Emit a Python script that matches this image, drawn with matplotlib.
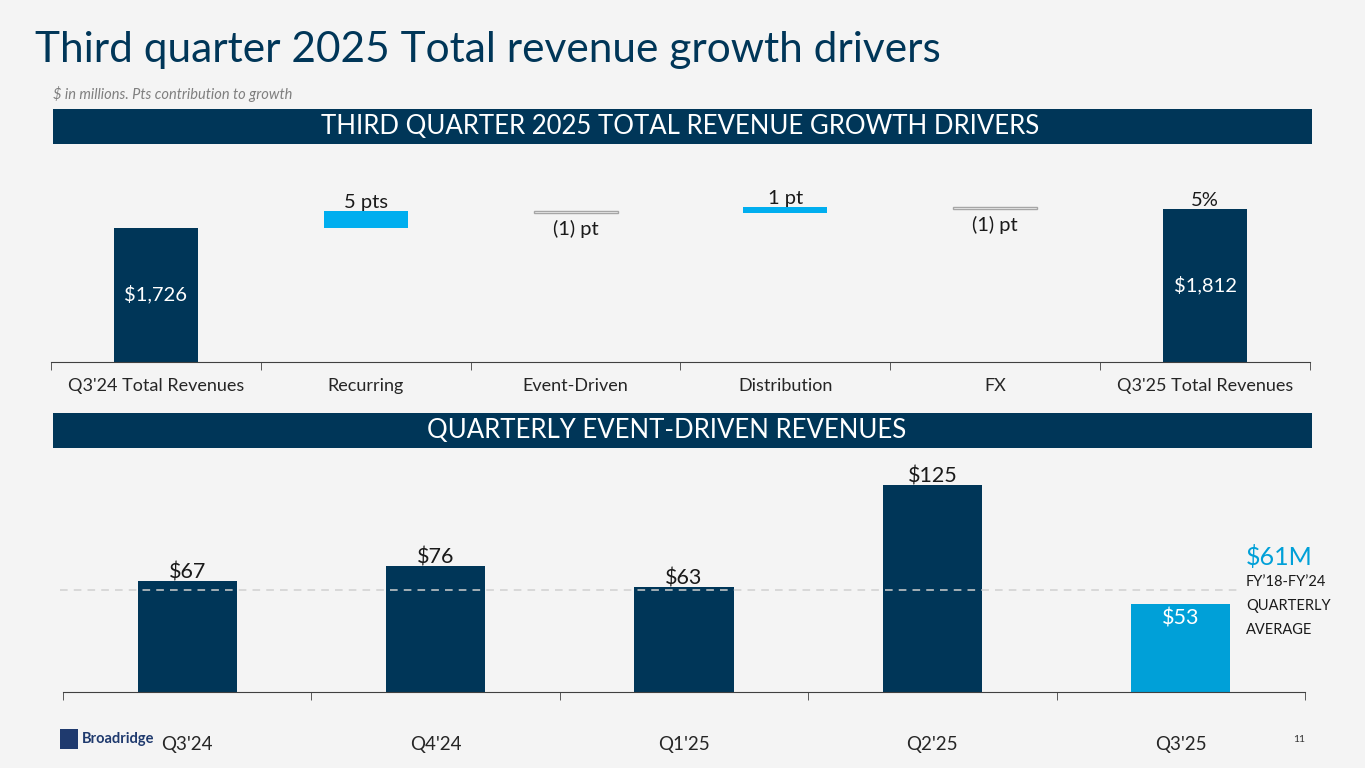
import matplotlib.pyplot as plt
from matplotlib.patches import Rectangle

# waterfall data ($M)
wf_labels = ["Q3'24 Total Revenues", "Recurring", "Event-Driven", "Distribution", "FX", "Q3'25 Total Revenues"]
wf_start = 1726
wf_steps = [78, -12, 30, -10]          # Recurring, Event-Driven, Distribution, FX
wf_end = 1812
wf_step_text = ["5 pts", "(1) pt", "1 pt", "(1) pt"]
wf_growth_text = "5%"

# quarterly event-driven revenues ($M)
q_labels = ["Q3'24", "Q4'24", "Q1'25", "Q2'25", "Q3'25"]
q_values = [67, 76, 63, 125, 53]
q_avg = 61

NAVY = '#003658'
BLUE = '#00aeef'
LBLUE = '#00a0d8'
BG = '#f4f4f4'
FONT = 'Lato'

W, H = 1365, 768
fig = plt.figure(figsize=(W / 100, H / 100), dpi=100, facecolor=BG)


def px_axes(x0, y0, x1, y1):
    # pixel box (top-left origin) -> figure axes
    return fig.add_axes([x0 / W, 1 - y1 / H, (x1 - x0) / W, (y1 - y0) / H])


def ftext(x, y, s, **kw):
    kw.setdefault('family', FONT)
    fig.text(x / W, 1 - y / H, s, **kw)


# title and subtitle
ftext(35, 50, "Third quarter 2025 Total revenue growth drivers", fontsize=30.5, color=NAVY, va='center')
ftext(53, 94, "$ in millions. Pts contribution to growth", fontsize=10.5, style='italic', color='#7f7f7f', va='center')

# banners
for y0, xc, txt in [(109, 680, "THIRD QUARTER 2025 TOTAL REVENUE GROWTH DRIVERS"),
                    (413, 667, "QUARTERLY EVENT-DRIVEN REVENUES")]:
    fig.patches.append(Rectangle((53 / W, 1 - (y0 + 35) / H), (1312 - 53) / W, 35 / H,
                                 transform=fig.transFigure, facecolor=NAVY, edgecolor='none'))
    ftext(xc, y0 + 18, txt, fontsize=18.5, color='white', ha='center', va='center')

# ---- waterfall ----
ax = px_axes(51, 170, 1310, 361.5)
ax.set_facecolor('none')
ax.set_xlim(-0.5, 5.5)
ymin = 1100
ax.set_ylim(ymin, ymin + (361.5 - 170) * 626 / 134)
bw = 0.4
ax.bar(0, wf_start - ymin, bottom=ymin, width=bw, color=NAVY)
ax.bar(5, wf_end - ymin, bottom=ymin, width=bw, color=NAVY)
ax.text(0, (wf_start + ymin) / 2, f"${wf_start:,}", color='white', ha='center', va='center', fontsize=14.5, family=FONT)
ax.text(5, (wf_end + ymin) / 2, f"${wf_end:,}", color='white', ha='center', va='center', fontsize=14.5, family=FONT)
ax.annotate(wf_growth_text, (5, wf_end), xytext=(0, 0), textcoords='offset points',
            ha='center', va='bottom', fontsize=14.5, family=FONT, color='#1a1a1a')

level = wf_start
for i, (d, t) in enumerate(zip(wf_steps, wf_step_text)):
    x = i + 1
    if d > 0:
        ax.bar(x, d, bottom=level, width=bw, color=BLUE)
        ax.annotate(t, (x, level + d), xytext=(0, 0), textcoords='offset points',
                    ha='center', va='bottom', fontsize=14.5, family=FONT, color='#1a1a1a')
    else:
        ax.bar(x, d, bottom=level, width=bw, facecolor='white', edgecolor='#a6a6a6', linewidth=1)
        ax.annotate(t, (x, level + d), xytext=(0, -5), textcoords='offset points',
                    ha='center', va='top', fontsize=14.5, family=FONT, color='#1a1a1a')
    level += d

ax.set_xticks(range(6))
ax.set_xticklabels(wf_labels, fontsize=13, family=FONT, color='#262626')
ax.set_xticks([i - 0.5 for i in range(7)], minor=True)
ax.tick_params(axis='x', which='major', length=0, pad=12)
ax.tick_params(axis='x', which='minor', length=6, color='#404040')
ax.set_yticks([])
for s in ['top', 'right', 'left']:
    ax.spines[s].set_visible(False)
ax.spines['bottom'].set_color('#404040')

# ---- quarterly event-driven ----
ax2 = px_axes(63, 460, 1305, 691.5)
ax2.set_facecolor('none')
ax2.set_xlim(-0.5, 4.5)
ax2.set_ylim(0, (691.5 - 460) / 1.656)
colors = [NAVY] * 4 + [LBLUE]
ax2.bar(range(5), q_values, width=0.4, color=colors, zorder=2)
for i, v in enumerate(q_values):
    if i == len(q_values) - 1:
        ax2.text(i, v - 3, f"${v}", ha='center', va='top', color='white', fontsize=15.5, family=FONT, zorder=4)
    else:
        ax2.text(i, v - 1, f"${v}", ha='center', va='bottom', color='#1a1a1a', fontsize=15.5, family=FONT, zorder=4)
ax2.axhline(q_avg, xmin=(60 - 63) / (1305 - 63), xmax=(1240 - 63) / (1305 - 63), color='#d0d0d0',
            linestyle=(0, (5, 4)), linewidth=1.1, zorder=3, clip_on=False)
ax2.set_xticks(range(5))
ax2.set_xticklabels(q_labels, fontsize=13.5, family=FONT, color='#262626')
ax2.set_xticks([i - 0.5 for i in range(6)], minor=True)
ax2.tick_params(axis='x', which='major', length=0, pad=32)
ax2.tick_params(axis='x', which='minor', length=6, color='#404040')
ax2.set_yticks([])
for s in ['top', 'right', 'left']:
    ax2.spines[s].set_visible(False)
ax2.spines['bottom'].set_color('#404040')

# average annotation
ftext(1246, 557, "$61M", fontsize=18, color=LBLUE, va='center')
ftext(1246, 606, "FY\u201918-FY\u201924\nQUARTERLY\nAVERAGE", fontsize=10.5, color='#1a1a1a', va='center', linespacing=1.95)

# footer
fig.patches.append(Rectangle((60 / W, 1 - 749 / H), 18 / W, 20 / H, transform=fig.transFigure,
                             facecolor='#1f3a6e', edgecolor='none'))
ftext(82, 739, "Broadridge", fontsize=10.5, weight='bold', color='#1f3a6e', va='center')
ftext(1299, 740, "11", fontsize=7.5, color='#333333', ha='center', va='center')

fig.savefig('out.png', dpi=100, facecolor=BG)
